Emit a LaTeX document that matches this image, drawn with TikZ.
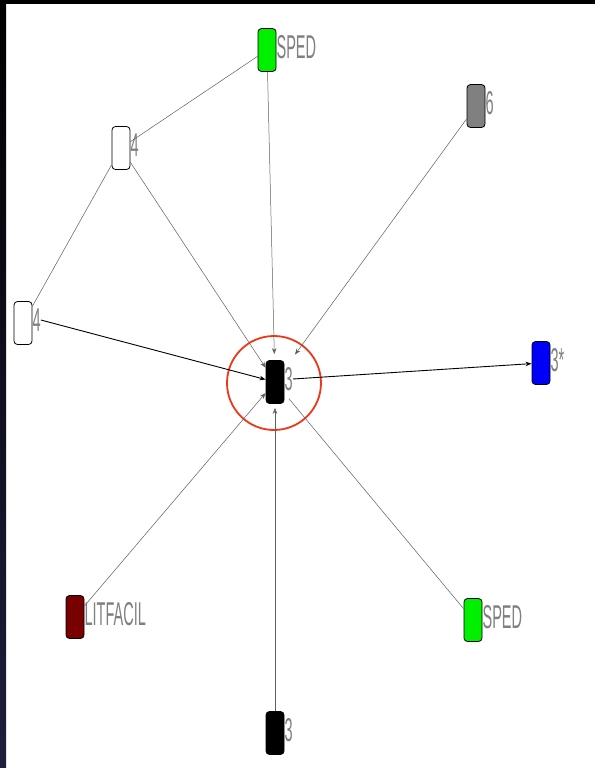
\documentclass[tikz,border=0pt]{standalone}
\usepackage{fontspec}
\usepackage{graphicx}
\setmainfont{Liberation Sans}
\usetikzlibrary{arrows.meta}
\definecolor{lblgray}{RGB}{128,128,128}
\definecolor{edgegray}{RGB}{95,95,95}
\definecolor{ngreen}{RGB}{0,240,0}
\definecolor{ngray}{RGB}{128,128,128}
\definecolor{nblue}{RGB}{0,0,250}
\definecolor{nmaroon}{RGB}{120,0,0}
\definecolor{ringred}{RGB}{238,55,25}
\definecolor{barnavy}{RGB}{30,30,62}
\newcommand{\lbltext}[1]{\scalebox{0.44}[1]{\fontsize{33}{33}\selectfont #1}}
\tikzset{
  nodebox/.style={draw=black, line width=0.8pt, rounded corners=3.5pt,
    minimum width=18pt, minimum height=43pt, inner sep=0pt},
  nlabel/.style 2 args={label={[name=#1, text=lblgray, inner sep=0pt, anchor=west, yshift=3pt]east:\lbltext{#2}}},
  thinedge/.style={draw=edgegray, line width=0.5pt},
  boldedge/.style={draw=black, line width=0.9pt},
  tip/.style={-{Stealth[length=6pt,width=4.5pt]}}
}
\begin{document}
\begin{tikzpicture}[x=1pt,y=-1pt]
\useasboundingbox (0,0) rectangle (595,768);
\fill[white] (0,0) rectangle (595,768);
\shade[top color=black, bottom color=barnavy] (0,0) rectangle (6,768);
\fill[black] (0,0) rectangle (595,4);

% nodes
\node[nodebox, fill=black, nlabel={cl}{3}] (c) at (275,382) {};
\node[nodebox, fill=ngreen, nlabel={spedTl}{SPED}] (spedT) at (267,50) {};
\node[nodebox, fill=white, nlabel={fourUl}{4}] (fourU) at (121,148) {};
\node[nodebox, fill=white, nlabel={fourLl}{4}] (fourL) at (23,323) {};
\node[nodebox, fill=ngray, nlabel={sixl}{6}] (six) at (476,106) {};
\node[nodebox, fill=nblue, nlabel={starl}{3*}] (star) at (541,363) {};
\node[nodebox, fill=nmaroon, nlabel={litl}{LITFACIL}] (lit) at (75,617) {};
\node[nodebox, fill=ngreen, nlabel={spedBl}{SPED}] (spedB) at (473,620) {};
\node[nodebox, fill=black, nlabel={b3l}{3}] (b3) at (275,733) {};

% ring
\node[draw=ringred, line width=1.8pt, circle, minimum size=94pt, inner sep=0pt] (ring) at (274,383) {};

% edges
\draw[thinedge] (spedT) -- (fourU);
\draw[thinedge] (fourU) -- (fourL);
\draw[thinedge, tip, shorten >=6pt] (spedT) -- (c);
\draw[thinedge, tip] (fourU) -- (c);
\draw[boldedge, tip] (fourLl.east) -- (c);
\draw[thinedge, tip, shorten >=18pt] (six) -- (c);
\draw[boldedge, tip] (cl.east) -- (star);
\draw[thinedge, tip] (lit) -- (c);
\draw[thinedge, shorten >=7pt] (spedB) -- (c);
\draw[thinedge, tip, shorten >=4pt] (b3) -- (c);
\end{tikzpicture}
\end{document}
